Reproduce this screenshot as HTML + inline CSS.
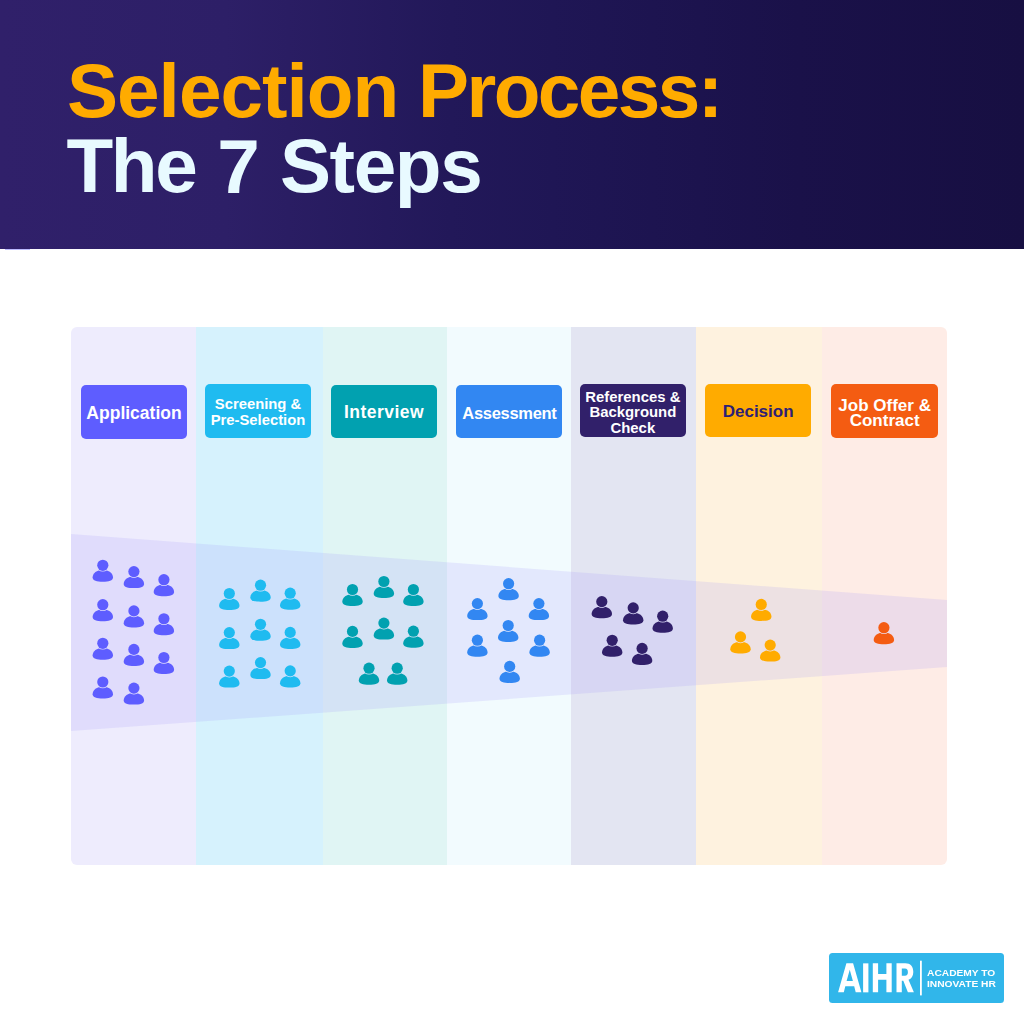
<!DOCTYPE html>
<html>
<head>
<meta charset="utf-8">
<style>
html,body{margin:0;padding:0;}
body{width:1024px;height:1024px;position:relative;overflow:hidden;background:#ffffff;font-family:"Liberation Sans",sans-serif;}
.hdr{position:absolute;left:0;top:0;width:1024px;height:249px;background:linear-gradient(90deg,#30206a 0%,#2d1f67 22%,#221859 44%,#1f1655 54%,#1a1149 78%,#170f42 100%);}
.t1,.t2{position:absolute;font-weight:bold;white-space:nowrap;line-height:1;}
.t1{top:53px;font-size:76.5px;color:#ffab00;}
.t2{top:128px;font-size:76.5px;color:#e8faff;}
.chart{position:absolute;left:71px;top:326.5px;width:876px;height:538.5px;border-radius:6px;overflow:hidden;}
.col{position:absolute;top:0;height:100%;width:125.15px;}
.btn{position:absolute;border-radius:5px;color:#fff;font-weight:bold;text-align:center;display:flex;align-items:center;justify-content:center;white-space:nowrap;}
.btn span{display:block;}
svg.ov{position:absolute;left:0;top:0;}
.logo{position:absolute;left:829px;top:952.6px;width:174.5px;height:50.6px;background:#31b6ea;border-radius:3.5px;}
</style>
</head>
<body>
<div class="hdr"></div>
<div style="position:absolute;left:5px;top:248.5px;width:25px;height:1px;background:#6a66ff;opacity:0.45"></div>
<div class="t1" style="left:67px;letter-spacing:-0.98px">Selection</div>
<div class="t1" style="left:418px;letter-spacing:-2.55px">Process:</div>
<div class="t2" style="left:66.4px;letter-spacing:-2.3px">The</div>
<div class="t2" style="left:217.2px;top:129px">7</div>
<div class="t2" style="left:279.9px;letter-spacing:-1.37px">Steps</div>

<div class="chart">
  <div class="col" style="left:0;width:125px;background:#eeecfd"></div>
  <div class="col" style="left:125px;width:127px;background:#d6f2fd"></div>
  <div class="col" style="left:252px;width:124px;background:#e0f5f4"></div>
  <div class="col" style="left:376px;width:124px;background:#f2fbfe"></div>
  <div class="col" style="left:500px;width:125px;background:#e3e5f2"></div>
  <div class="col" style="left:625px;width:126px;background:#fef2df"></div>
  <div class="col" style="left:751px;width:125px;background:#feece6"></div>
</div>

<svg class="ov" width="1024" height="1024" viewBox="0 0 1024 1024">
  <defs>
    <mask id="hm" maskUnits="userSpaceOnUse" x="-15" y="-10" width="30" height="30">
      <rect x="-15" y="-10" width="30" height="30" fill="#fff"/>
      <circle cx="0" cy="0" r="6.3" fill="#000"/>
    </mask>
    <g id="p">
      <circle cx="0" cy="0" r="5.6"/>
      <path mask="url(#hm)" d="M-10.2,12.3 C-10.2,7.9 -6,4.8 0,4.8 C6,4.8 10.2,7.9 10.2,12.3 C10.2,15.5 6,16.5 0,16.5 C-6,16.5 -10.2,15.5 -10.2,12.3 Z"/>
    </g>
  </defs>
  <polygon points="71,534 947,600 947,667 71,731" fill="#9d94fa" fill-opacity="0.175"/>
  <g fill="#5e5dff">
    <use href="#p" x="102.8" y="565.3"/><use href="#p" x="133.9" y="571.6"/><use href="#p" x="163.9" y="579.7"/>
    <use href="#p" x="102.8" y="604.7"/><use href="#p" x="133.9" y="610.9"/><use href="#p" x="163.9" y="618.75"/>
    <use href="#p" x="102.8" y="643.3"/><use href="#p" x="133.9" y="649.4"/><use href="#p" x="163.9" y="657.5"/>
    <use href="#p" x="102.8" y="682"/><use href="#p" x="133.9" y="688.1"/>
  </g>
  <g fill="#1fbbf0">
    <use href="#p" x="229.3" y="593.5"/><use href="#p" x="260.5" y="585.2"/><use href="#p" x="290.2" y="593.2"/>
    <use href="#p" x="229.3" y="632.6"/><use href="#p" x="260.5" y="624.3"/><use href="#p" x="290.2" y="632.4"/>
    <use href="#p" x="229.3" y="671.1"/><use href="#p" x="260.5" y="662.6"/><use href="#p" x="290.2" y="670.9"/>
  </g>
  <g fill="#01a1b0">
    <use href="#p" x="352.5" y="589.5"/><use href="#p" x="383.9" y="581.5"/><use href="#p" x="413.4" y="589.5"/>
    <use href="#p" x="352.5" y="631.4"/><use href="#p" x="383.9" y="623.1"/><use href="#p" x="413.4" y="631.2"/>
    <use href="#p" x="369" y="668.2"/><use href="#p" x="397.2" y="668.2"/>
  </g>
  <g fill="#3287f2">
    <use href="#p" x="508.6" y="583.7"/>
    <use href="#p" x="477.4" y="603.6"/><use href="#p" x="538.9" y="603.6"/>
    <use href="#p" x="508.2" y="625.5"/>
    <use href="#p" x="477.4" y="640.2"/><use href="#p" x="539.6" y="640.2"/>
    <use href="#p" x="509.7" y="666.4"/>
  </g>
  <g fill="#31206a">
    <use href="#p" x="601.8" y="601.65"/><use href="#p" x="633.2" y="607.9"/><use href="#p" x="662.7" y="616.2"/>
    <use href="#p" x="612.2" y="640.3"/><use href="#p" x="642.1" y="648.4"/>
  </g>
  <g fill="#ffab00">
    <use href="#p" x="761.25" y="604.45"/><use href="#p" x="740.5" y="636.9"/><use href="#p" x="770.2" y="645.1"/>
  </g>
  <g fill="#f45c12">
    <use href="#p" x="883.9" y="627.7"/>
  </g>
</svg>

<div class="btn" style="left:81px;top:385px;width:106px;height:54px;background:#5e5dff;font-size:17.5px;"><div style="position:relative;top:1px">Application</div></div>
<div class="btn" style="left:205px;top:384px;width:106px;height:53.5px;background:#1fbbf0;font-size:14.8px;line-height:16px;"><div style="position:relative;top:1.2px">Screening &amp;<br>Pre-Selection</div></div>
<div class="btn" style="left:331px;top:384.6px;width:106px;height:53px;background:#01a1b0;font-size:17.5px;"><div style="position:relative;top:1.5px;letter-spacing:0.45px">Interview</div></div>
<div class="btn" style="left:456.4px;top:385.2px;width:106px;height:53.3px;background:#3287f2;font-size:16.5px;"><div style="position:relative;top:1.5px;letter-spacing:-0.3px">Assessment</div></div>
<div class="btn" style="left:579.7px;top:384.1px;width:106.3px;height:53.4px;background:#31206a;font-size:14.9px;line-height:15.5px;"><div style="position:relative;top:2px">References &amp;<br>Background<br>Check</div></div>
<div class="btn" style="left:705.1px;top:384.1px;width:106.1px;height:53.4px;background:#ffab00;color:#2e1f75;font-size:17px;"><div style="position:relative;top:1px">Decision</div></div>
<div class="btn" style="left:831.4px;top:384.3px;width:106.5px;height:53.9px;background:#f45c12;font-size:17px;line-height:15.5px;"><div style="position:relative;top:2px">Job Offer &amp;<br>Contract</div></div>

<div class="logo"></div>
<svg style="position:absolute;left:0;top:0" width="1024" height="1024" viewBox="0 0 1024 1024">
  <g fill="#ffffff" transform="translate(838.1,963.35)">
    <path fill-rule="evenodd" d="M0,29 L8.3,0 L15,0 L23.3,29 L17.6,29 L16.1,23 L7.2,23 L5.7,29 Z M8.5,17.6 L14.8,17.6 L11.65,6.5 Z"/>
    <rect x="25" y="0" width="5.3" height="29"/>
    <path d="M34.7,0 H40 V10.6 H48.3 V0 H53.6 V29 H48.3 V16.4 H40 V29 H34.7 Z"/>
    <path fill-rule="evenodd" d="M58.4,0 H67.2 C72.4,0 75.2,3.2 75.2,8.6 C75.2,12.6 73.4,15.2 70.4,16.4 L75.8,29 H69.8 L65.2,17.4 H63.7 V29 H58.4 Z M63.7,5.2 V12.4 H66.9 C68.9,12.4 69.8,11 69.8,8.8 C69.8,6.6 68.9,5.2 66.9,5.2 Z"/>
  </g>
  <rect x="920" y="960.7" width="1.8" height="34.7" fill="#ffffff"/>
</svg>
<div style="position:absolute;left:926.5px;top:967px;color:#fff;font-weight:bold;font-size:9.4px;line-height:11.1px;letter-spacing:0px;white-space:nowrap;transform:scaleX(1.09);transform-origin:0 0;">ACADEMY TO<br>INNOVATE HR</div>
</body>
</html>
